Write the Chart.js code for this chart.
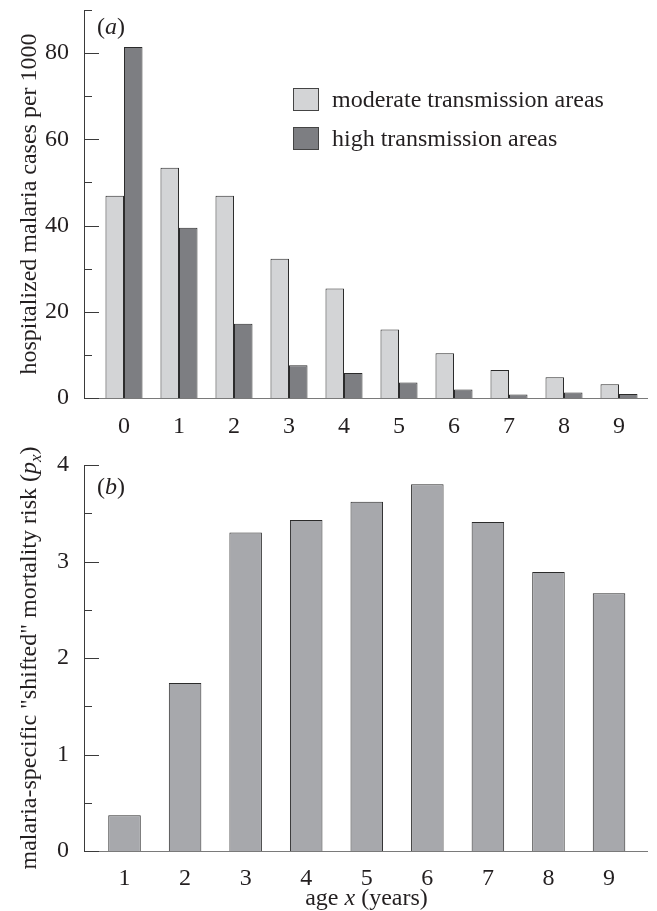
<!DOCTYPE html>
<html>
<head>
<meta charset="utf-8">
<title>Malaria cases and mortality risk by age</title>
<script src="https://cdn.jsdelivr.net/npm/chart.js"></script>
<style>
  body { margin: 0; background: #fff; }
  .panel { position: absolute; left: 0; width: 657px; }
  #panel-a { top: 0; height: 440px; }
  #panel-b { top: 440px; height: 471px; }
</style>
</head>
<body>
<div class="panel" id="panel-a"><canvas id="chart-a"></canvas></div>
<div class="panel" id="panel-b"><canvas id="chart-b"></canvas></div>
<script>
// (a) hospitalized malaria cases per 1000, by age
const agesA = [0, 1, 2, 3, 4, 5, 6, 7, 8, 9];
const moderateCases = [46.9, 53.4, 46.9, 32.3, 25.4, 15.9, 10.4, 6.5, 4.8, 3.2];
const highCases = [81.4, 39.5, 17.2, 7.6, 5.8, 3.6, 2.0, 0.8, 1.3, 0.9];
const yTicksA = [0, 10, 20, 30, 40, 50, 60, 70, 80, 90];
const yLabelsA = [0, 20, 40, 60, 80];

// (b) malaria-specific "shifted" mortality risk
const agesB = [1, 2, 3, 4, 5, 6, 7, 8, 9];
const riskB = [0.37, 1.74, 3.30, 3.43, 3.62, 3.80, 3.41, 2.89, 2.67];
const yTicksB = [0, 0.5, 1, 1.5, 2, 2.5, 3, 3.5, 4];
const yLabelsB = [0, 1, 2, 3, 4];

const SERIF = '"Liberation Serif", "Times New Roman", serif';
const INK = '#231f20';
Chart.defaults.font.family = SERIF;
Chart.defaults.font.size = 24;
Chart.defaults.color = INK;

function drawRich(ctx, parts, x, y, align, rotate) {
  ctx.save();
  ctx.translate(x, y);
  if (rotate) ctx.rotate(-Math.PI / 2);
  ctx.textBaseline = 'alphabetic';
  ctx.textAlign = 'left';
  ctx.fillStyle = INK;
  const fontOf = p => (p.italic ? 'italic ' : '') + (p.size || 24) + 'px ' + SERIF;
  let total = 0;
  parts.forEach(p => { ctx.font = fontOf(p); p.w = ctx.measureText(p.t).width; total += p.w; });
  let cx = align === 'center' ? -total / 2 : 0;
  parts.forEach(p => { ctx.font = fontOf(p); ctx.fillText(p.t, cx, p.dy || 0); cx += p.w; });
  ctx.restore();
}

// short tick marks pointing into the plot
const inwardTicks = {
  id: 'inwardTicks',
  afterDatasetsDraw(chart, args, opts) {
    const y = chart.scales.y, left = chart.chartArea.left, ctx = chart.ctx;
    ctx.save();
    ctx.strokeStyle = '#3a3a3a';
    ctx.lineWidth = 1;
    y.ticks.forEach(t => {
      const py = Math.round(y.getPixelForValue(t.value)) + 0.5;
      const len = opts.major.includes(t.value) ? 15 : 8;
      ctx.beginPath();
      ctx.moveTo(left, py);
      ctx.lineTo(left + len, py);
      ctx.stroke();
    });
    ctx.restore();
  }
};

const annotations = {
  id: 'annotations',
  afterDraw(chart, args, opts) {
    const ctx = chart.ctx, area = chart.chartArea;
    const midY = (area.top + area.bottom) / 2;
    drawRich(ctx, opts.yTitle, 36, midY, 'center', true);
    drawRich(ctx, opts.panel, 97, opts.panelY, 'left', false);
    if (opts.xTitle) drawRich(ctx, opts.xTitle, (area.left + area.right) / 2 + 1, opts.xTitleY, 'center', false);
    if (opts.legend) {
      chart.data.datasets.forEach((ds, i) => {
        const top = 88 + i * 39;
        ctx.save();
        ctx.fillStyle = ds.backgroundColor;
        ctx.fillRect(293, top, 25, 22);
        ctx.strokeStyle = '#444';
        ctx.lineWidth = 1;
        ctx.strokeRect(293.5, top + 0.5, 25, 22);
        ctx.restore();
        drawRich(ctx, [{ t: ds.label }], 332, top + 19, 'left', false);
      });
    }
  }
};

function yAxis(max, ticks, labels) {
  return {
    type: 'linear', min: 0, max: max,
    grid: { display: false },
    border: { color: '#3a3a3a', width: 1 },
    ticks: { padding: 7, callback: v => labels.includes(v) ? String(v) : '' },
    afterBuildTicks: s => { s.ticks = ticks.map(v => ({ value: v })); },
    afterFit: s => { s.width = 84; s.paddingTop = 0; s.paddingBottom = 0; }
  };
}

function xAxis(min, max, ticks, height, pad) {
  return {
    type: 'linear', min: min, max: max, offset: false,
    grid: { display: false },
    border: { color: '#7a7a7a', width: 1 },
    ticks: { padding: pad, autoSkip: false, maxRotation: 0 },
    afterBuildTicks: s => { s.ticks = ticks.map(v => ({ value: v })); },
    afterFit: s => { s.height = height; s.paddingLeft = 0; s.paddingRight = 0; }
  };
}

new Chart(document.getElementById('chart-a'), {
  type: 'bar',
  data: {
    datasets: [{
      label: 'moderate transmission areas',
      data: agesA.map((a, i) => ({ x: a, y: moderateCases[i] })),
      backgroundColor: '#d3d4d6',
      borderColor: '#2b2b2b',
      borderWidth: 1
    }, {
      label: 'high transmission areas',
      data: agesA.map((a, i) => ({ x: a, y: highCases[i] })),
      backgroundColor: '#7d7e82',
      borderColor: '#2b2b2b',
      borderWidth: 1
    }]
  },
  options: {
    responsive: true,
    maintainAspectRatio: false,
    animation: false,
    layout: { padding: { top: 10, right: 10, left: 0, bottom: 0 } },
    datasets: { bar: { categoryPercentage: 0.673, barPercentage: 1 } },
    scales: {
      x: xAxis(-0.727, 9.509, agesA, 42, 6),
      y: yAxis(90, yTicksA, yLabelsA)
    },
    plugins: {
      legend: { display: false },
      tooltip: { enabled: false },
      inwardTicks: { major: yLabelsA },
      annotations: {
        yTitle: [{ t: 'hospitalized malaria cases per 1000' }],
        panel: [{ t: '(' }, { t: 'a', italic: true }, { t: ')' }],
        panelY: 34,
        legend: true
      }
    }
  },
  plugins: [inwardTicks, annotations]
});

new Chart(document.getElementById('chart-b'), {
  type: 'bar',
  data: {
    datasets: [{
      label: 'mortality risk',
      data: agesB.map((a, i) => ({ x: a, y: riskB[i] })),
      backgroundColor: '#a7a8ac',
      borderColor: '#2b2b2b',
      borderWidth: 1
    }]
  },
  options: {
    responsive: true,
    maintainAspectRatio: false,
    animation: false,
    layout: { padding: { top: 25, right: 10, left: 0, bottom: 0 } },
    datasets: { bar: { categoryPercentage: 0.537, barPercentage: 1 } },
    scales: {
      x: xAxis(0.331, 9.627, agesB, 60, 5),
      y: yAxis(4, yTicksB, yLabelsB)
    },
    plugins: {
      legend: { display: false },
      tooltip: { enabled: false },
      inwardTicks: { major: yLabelsB },
      annotations: {
        yTitle: [
          { t: 'malaria-specific "shifted" mortality risk (' },
          { t: 'p', italic: true },
          { t: 'x', italic: true, size: 17, dy: 5 },
          { t: ')' }
        ],
        panel: [{ t: '(' }, { t: 'b', italic: true }, { t: ')' }],
        panelY: 54,
        xTitle: [{ t: 'age ' }, { t: 'x', italic: true }, { t: ' (years)' }],
        xTitleY: 465
      }
    }
  },
  plugins: [inwardTicks, annotations]
});
</script>
</body>
</html>
